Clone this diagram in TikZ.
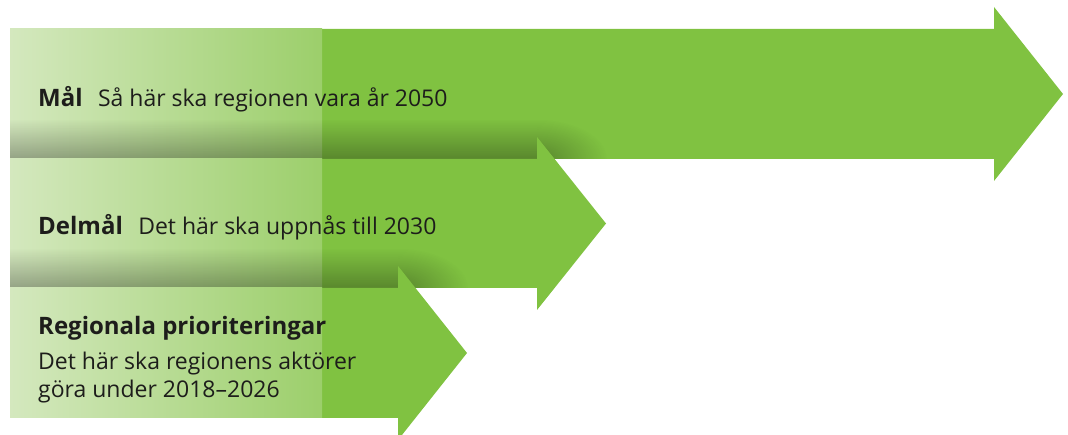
\documentclass[tikz,border=0pt]{standalone}
\usepackage{fontspec}
\setmainfont{Open Sans}
\usetikzlibrary{fadings,positioning}
\definecolor{arrowgreen}{RGB}{128,194,65}
\definecolor{palegreen}{RGB}{240,245,232}
\definecolor{textgray}{RGB}{29,29,27}
\pgfdeclarehorizontalshading{greenfade}{100bp}{color(0bp)=(palegreen); color(100bp)=(arrowgreen)}
\tikzfading[name=shadowup, top color=transparent!100, bottom color=transparent!0]
\tikzfading[name=shadowglow, inner color=transparent!0, outer color=transparent!100]
\tikzset{
    arrowbody/.style={fill=arrowgreen},
    fadeleft/.style={shading=greenfade, shading angle=0},
    shadowstrip/.style={fill=black, fill opacity=0.3, path fading=shadowup},
    shadowcorner/.style={fill=black, fill opacity=0.3, path fading=shadowglow},
    title/.style={anchor=base west, inner sep=0pt, text=textgray, font=\bfseries\fontsize{24}{29}\selectfont},
    plaintext/.style={anchor=base west, inner sep=0pt, text=textgray, font=\fontsize{23}{28}\selectfont}
}

\begin{document}
\begin{tikzpicture}[x=1pt,y=1pt]
    \useasboundingbox (0,0) rectangle (1068,435);

    % Arrow 1: Mal
    \fill[arrowbody] (10,276) -- (994,276) -- (994,254) -- (1063,341) -- (994,428) -- (994,406) -- (10,406) -- cycle;
    \shade[fadeleft] (10,276) rectangle (322,406);
    % shadow cast by arrow 2
    \fill[shadowstrip] (10,276) rectangle (537,316);
    \begin{scope}
        \clip (537,276) rectangle (640,320);
        \fill[shadowcorner] (537,276) ellipse [x radius=70, y radius=40];
    \end{scope}

    % Arrow 2: Delmal
    \fill[arrowbody] (10,147) -- (537,147) -- (537,125) -- (606,211.5) -- (537,298) -- (537,276) -- (10,276) -- cycle;
    \shade[fadeleft] (10,147) rectangle (322,276);
    % shadow cast by arrow 3
    \fill[shadowstrip] (10,147) rectangle (398,187);
    \begin{scope}
        \clip (398,147) rectangle (500,190);
        \fill[shadowcorner] (398,147) ellipse [x radius=70, y radius=40];
    \end{scope}

    % Arrow 3: Regionala prioriteringar
    \fill[arrowbody] (10,17) -- (398,17) -- (398,-5) -- (467,82) -- (398,169) -- (398,147) -- (10,147) -- cycle;
    \shade[fadeleft] (10,17) rectangle (322,147);

    % Texts
    \node[title] (mal) at (38,328) {Mål};
    \node[plaintext, base right=15pt of mal] (malText) {Så här ska regionen vara år 2050};
    \node[title] (delmal) at (38,200) {Delmål};
    \node[plaintext, base right=15pt of delmal] (delmalText) {Det här ska uppnås till 2030};
    \node[title] (prio) at (38,100) {Regionala prioriteringar};
    \node[plaintext] (prioText1) at (38,65) {Det här ska regionens aktörer};
    \node[plaintext] (prioText2) at (38,37) {göra under 2018–2026};
\end{tikzpicture}
\end{document}
